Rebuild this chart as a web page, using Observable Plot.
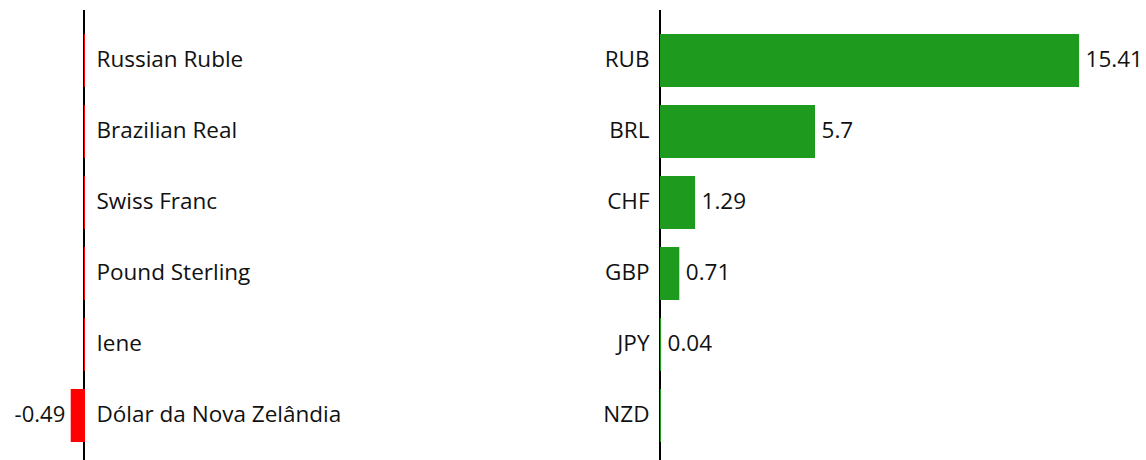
<!DOCTYPE html>
<html>
<head>
<meta charset="utf-8">
<script src="https://cdn.jsdelivr.net/npm/d3@7"></script>
<script src="https://cdn.jsdelivr.net/npm/@observablehq/plot@0.6"></script>
<style>
  html, body { margin: 0; padding: 0; background: #fff; }
  #wrap { display: flex; flex-direction: row; width: 1146px; height: 460px; }
  svg { overflow: visible; }
</style>
</head>
<body>
<div id="wrap"></div>
<script>
const codes = ["RUB", "BRL", "CHF", "GBP", "JPY", "NZD"];
const names = ["Russian Ruble", "Brazilian Real", "Swiss Franc", "Pound Sterling", "Iene", "Dólar da Nova Zelândia"];
const changes = [15.41, 5.7, 1.29, 0.71, 0.04, -0.49];

const rows = codes.map((c, i) => ({code: c, name: names[i], value: changes[i]}));
const neg = rows.map(d => ({...d, part: Math.min(d.value, 0)}));
const pos = rows.map(d => ({...d, part: Math.max(d.value, 0)}));

const RED = "#ff0000";
const GREEN = "#1e9a1e";
const FONT = "Open Sans";
const FS = 22.5;
const DY = -1.5;

const yScale = {domain: codes, paddingInner: 0.25, paddingOuter: 0.294, align: 0.575, axis: null};

const left = Plot.plot({
  width: 573, height: 460,
  marginTop: 10, marginBottom: 0, marginLeft: 0, marginRight: 489,
  style: {fontFamily: FONT, fontSize: FS + "px", background: "transparent", overflow: "visible"},
  x: {domain: [-3.1, 0], axis: null},
  y: yScale,
  marks: [
    Plot.ruleX([0], {stroke: "black", strokeWidth: 2, dx: -0.5}),
    Plot.barX(neg, {x1: "part", x2: 0, y: "code", fill: RED}),
    Plot.tickX(neg, {x: 0, y: "code", stroke: RED, strokeWidth: 1}),
    Plot.text(neg, {x: 0, y: "code", text: "name", textAnchor: "start", dx: 12, dy: DY, fontSize: FS, fill: "#111"}),
    Plot.text(neg.filter(d => d.part < 0), {x: "part", y: "code", text: d => String(d.value), textAnchor: "end", dx: -6, dy: DY, fontSize: 22, fill: "#111"})
  ]
});

const right = Plot.plot({
  width: 573, height: 460,
  marginTop: 10, marginBottom: 0, marginLeft: 87, marginRight: 0,
  style: {fontFamily: FONT, fontSize: FS + "px", background: "transparent", overflow: "visible"},
  x: {domain: [0, 17.87], axis: null},
  y: yScale,
  marks: [
    Plot.ruleX([0], {stroke: "black", strokeWidth: 2, dx: -0.5}),
    Plot.barX(pos, {x1: 0, x2: "part", y: "code", fill: GREEN}),
    Plot.tickX(pos, {x: 0, y: "code", stroke: GREEN, strokeWidth: 1}),
    Plot.text(pos, {x: 0, y: "code", text: "code", textAnchor: "end", dx: -11, dy: DY, fontSize: FS, fill: "#111"}),
    Plot.text(pos.filter(d => d.part > 0), {x: "part", y: "code", text: d => String(d.value), textAnchor: "start", dx: 6, dy: DY, fontSize: FS, fill: "#111"})
  ]
});

const wrap = document.getElementById("wrap");
wrap.appendChild(left);
wrap.appendChild(right);
</script>
</body>
</html>
